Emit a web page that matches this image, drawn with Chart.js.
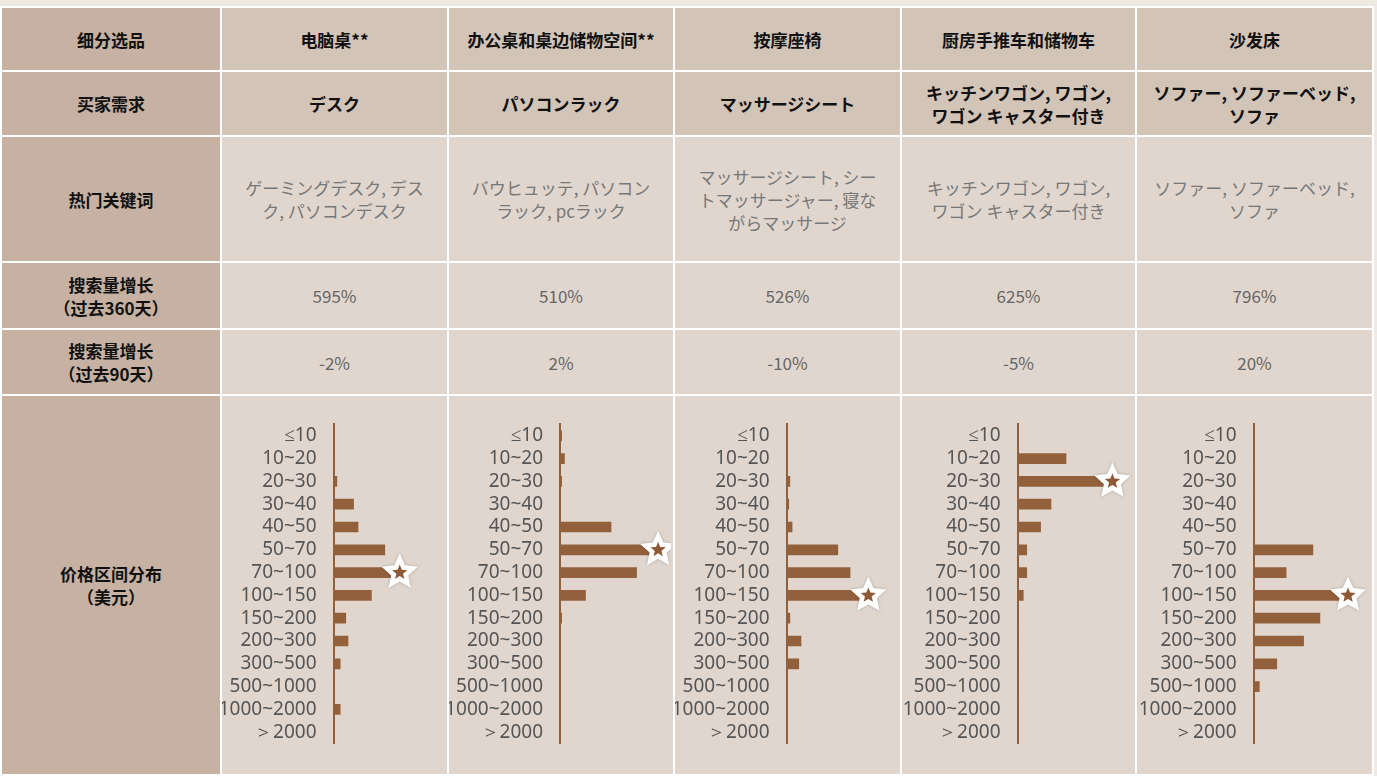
<!DOCTYPE html>
<html><head><meta charset="utf-8">
<script src="https://cdn.jsdelivr.net/npm/chart.js@4"></script>
<style>
body{margin:0;width:1377px;height:776px;background:#efe9e4;font-family:"Noto Sans CJK SC","Noto Sans",sans-serif;overflow:hidden}
table{position:absolute;left:0;top:6px;border-collapse:collapse;table-layout:fixed}
td{border:2px solid #fff;text-align:center;padding:0 4px;font-size:17px;line-height:23px;overflow:hidden}
td.h{background:#c6b1a2;font-weight:bold;color:#111}
tr.top td{background:#d3c4b8;font-weight:bold;color:#111}
tr.top td.h{background:#c6b1a2}
td.c{background:#e0d6ce;color:#666}
td.kw{color:#777;font-size:17px}
td.chart{padding:0;background:#e0d6ce;vertical-align:top}
</style></head><body>
<table id="t"></table>
<script>
// price buckets
const buckets = ['≤10','10~20','20~30','30~40','40~50','50~70','70~100','100~150','150~200','200~300','300~500','500~1000','1000~2000','＞2000'];
const products = ['电脑桌**','办公桌和桌边储物空间**','按摩座椅','厨房手推车和储物车','沙发床'];
const needs = ['デスク','パソコンラック','マッサージシート','キッチンワゴン, ワゴン,<br>ワゴン キャスター付き','ソファー, ソファーベッド,<br>ソファ'];
const keywords = ['ゲーミングデスク, デス<br>ク, パソコンデスク','バウヒュッテ, パソコン<br>ラック, pcラック','マッサージシート, シー<br>トマッサージャー, 寝な<br>がらマッサージ','キッチンワゴン, ワゴン,<br>ワゴン キャスター付き','ソファー, ソファーベッド,<br>ソファ'];
const growth360 = ['595%','510%','526%','625%','796%'];
const growth90 = ['-2%','2%','-10%','-5%','20%'];
// bar shares per bucket, one array per product
const desk = [0,1,3,18,22,46,54,34,11,13,6,1,6,0];
const rack = [1.5,4,1.5,0,46,83,69,23,1.5,0,0,0,0,0];
const massage = [0,1,3,2,5,46,57,68,3,13,11,0,0,0];
const kitchen = [0,42,77,29,20,8,8,5,0,0,0,0,0,0];
const sofa = [0,0,0,0,0,51,28,76,57,43,20,5,1,0];
const series = [desk, rack, massage, kitchen, sofa];

const rows = [
  ['细分选品', products, 'top', 64],
  ['买家需求', needs, 'top', 65],
  ['热门关键词', keywords, 'kw', 126],
  ['搜索量增长<br>（过去360天）', growth360, '', 67],
  ['搜索量增长<br>（过去90天）', growth90, '', 66]
];
const widths = [220, 227, 226, 227, 235, 237];
const t = document.getElementById('t');
let html = '<colgroup>' + widths.map(w => `<col style="width:${w}px">`).join('') + '</colgroup>';
rows.forEach(r => {
  html += `<tr class="${r[2] === 'top' ? 'top' : ''}" style="height:${r[3]}px"><td class="h">${r[0]}</td>`;
  r[1].forEach(v => html += `<td class="c ${r[2]}">${v}</td>`);
  html += '</tr>';
});
html += '<tr style="height:380px"><td class="h">价格区间分布<br>（美元）</td>';
series.forEach((s, i) => html += `<td class="chart"><canvas id="c${i}" width="${widths[i + 1] - 4}" height="376" style="display:block"></canvas></td>`);
html += '</tr>';
t.innerHTML = html;

const starPlugin = {
  id: 'star',
  afterDatasetsDraw(chart) {
    const data = chart.data.datasets[0].data;
    const idx = data.indexOf(Math.max(...data));
    const bar = chart.getDatasetMeta(0).data[idx];
    const ctx = chart.ctx;
    const drawStar = (x, y, ro, ri, fill) => {
      ctx.beginPath();
      for (let k = 0; k < 10; k++) {
        const r = k % 2 ? ri : ro;
        const a = -Math.PI / 2 + k * Math.PI / 5;
        ctx.lineTo(x + r * Math.cos(a), y + r * Math.sin(a));
      }
      ctx.closePath();
      ctx.fillStyle = fill;
      ctx.fill();
    };
    ctx.save();
    ctx.shadowColor = 'rgba(0,0,0,0.25)';
    ctx.shadowBlur = 3;
    drawStar(bar.x + 6, bar.y, 19, 9, '#fff');
    ctx.shadowBlur = 0;
    drawStar(bar.x + 6, bar.y, 8, 3.5, '#8e5a36');
    ctx.restore();
  }
};

series.forEach((s, i) => {
  new Chart(document.getElementById('c' + i), {
    type: 'bar',
    data: { labels: buckets, datasets: [{ data: s, backgroundColor: '#93603c', barThickness: 10 }] },
    options: {
      indexAxis: 'y',
      responsive: false,
      animation: false,
      layout: { padding: { top: 4, bottom: 8, right: 0, left: 0 } },
      plugins: { legend: { display: false }, tooltip: { enabled: false } },
      scales: {
        x: { display: false, min: 0, max: 100 },
        y: {
          grid: { display: false, drawTicks: false },
          border: { color: '#93603c', width: 2 },
          ticks: { color: '#555', font: { size: 19, family: 'Noto Sans' }, padding: 17, autoSkip: false }
        }
      }
    },
    plugins: [starPlugin]
  });
});
</script>
</body></html>
